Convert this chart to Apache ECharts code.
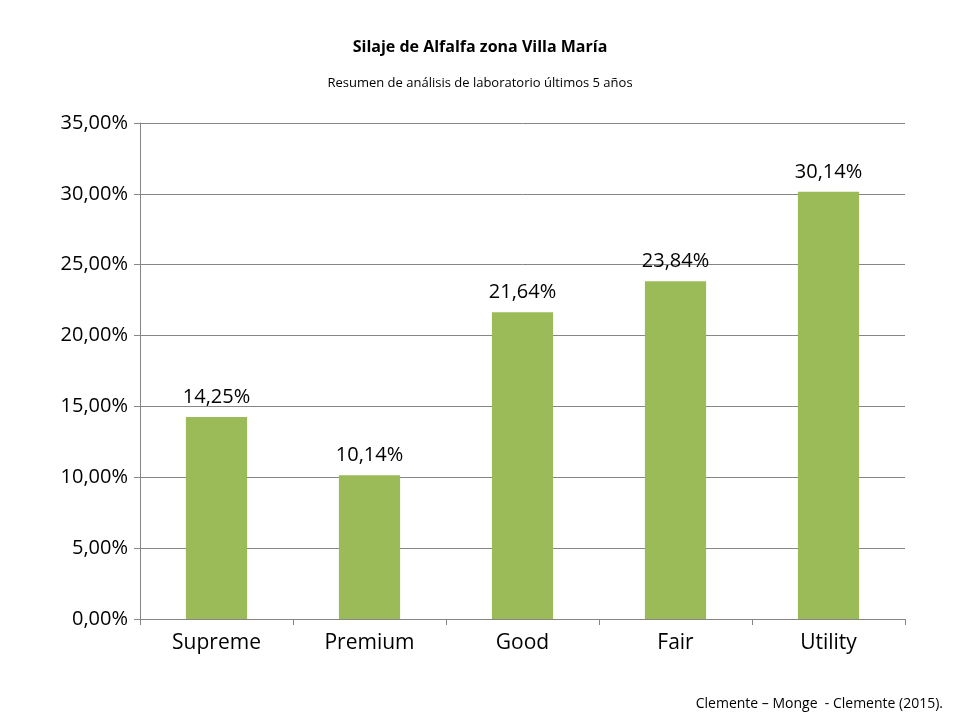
<!DOCTYPE html>
<html><head><meta charset="utf-8">
<script src="https://cdn.jsdelivr.net/npm/echarts@6/dist/echarts.min.js"></script>
<style>html,body{margin:0;background:#fff}#c{width:960px;height:720px}</style>
</head><body><div id="c"></div>
<script>
const categories = ['Supreme','Premium','Good','Fair','Utility'];
const values = [14.25, 10.14, 21.64, 23.84, 30.14];
const titleText = 'Silaje de Alfalfa zona Villa María';
const subtitleText = 'Resumen de análisis de laboratorio últimos 5 años';
const sourceText = 'Clemente – Monge  - Clemente (2015).';
const fmt = v => v.toFixed(2).replace('.', ',') + '%';
const font = 'Open Sans, Liberation Sans, sans-serif';
const chart = echarts.init(document.getElementById('c'));
chart.setOption({
  animation: false,
  textStyle: {fontFamily: font},
  title: [
    {text: titleText, left: 'center', top: 34, textStyle: {fontSize: 16, fontWeight: 'bold', color: '#000', fontFamily: font}},
    {text: subtitleText, left: 'center', top: 72, textStyle: {fontSize: 13, fontWeight: 'normal', color: '#000', fontFamily: font}},
    {text: sourceText, right: 12, top: 692, textStyle: {fontSize: 14, fontWeight: 'normal', color: '#000', fontFamily: font}}
  ],
  grid: {left: 140, right: 55, top: 123, bottom: 101, containLabel: false},
  xAxis: {
    type: 'category', data: categories,
    axisLine: {lineStyle: {color: '#868686'}},
    axisTick: {show: true, length: 6, lineStyle: {color: '#868686'}},
    axisLabel: {fontSize: 21, color: '#000', margin: 14}
  },
  yAxis: {
    type: 'value', min: 0, max: 35, interval: 5,
    axisLine: {show: true, lineStyle: {color: '#868686'}},
    axisTick: {show: true, length: 6, lineStyle: {color: '#868686'}},
    splitLine: {lineStyle: {color: '#868686'}},
    axisLabel: {fontSize: 20, color: '#000', formatter: v => fmt(v), margin: 12}
  },
  series: [{
    type: 'bar', data: values, barWidth: '40%',
    itemStyle: {color: '#9BBB59'},
    label: {show: true, position: 'top', distance: 10, fontSize: 20, color: '#000', formatter: p => fmt(p.value)}
  }]
});
</script></body></html>
